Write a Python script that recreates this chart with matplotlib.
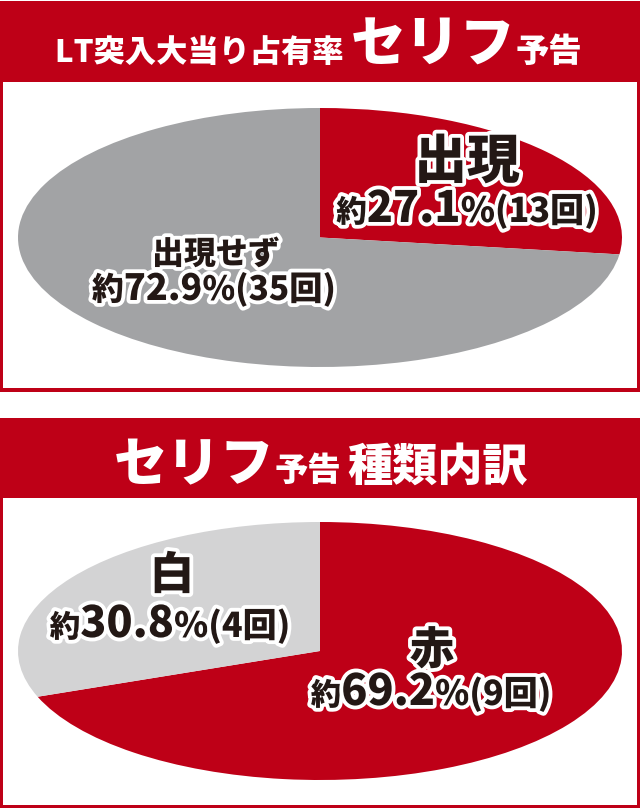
import matplotlib
matplotlib.use('Agg')
import matplotlib.pyplot as plt
import matplotlib.patheffects as pe
from matplotlib.patches import Rectangle

plt.rcParams['font.family'] = ['Noto Sans CJK JP', 'DejaVu Sans']

# データ
lt_labels = ['出現', '出現せず']
lt_counts = [13, 35]
lt_pct = ['27.1', '72.9']

kind_labels = ['赤', '白']
kind_counts = [9, 4]
kind_pct = ['69.2', '30.8']

RED = '#BE0017'
GRAY = '#A2A3A5'
LGRAY = '#D3D3D4'
INK = '#231815'

W, H = 640, 808
fig = plt.figure(figsize=(W / 100, H / 100), dpi=100)

# 背景（枠）
bg = fig.add_axes([0, 0, 1, 1])
bg.set_xlim(0, W)
bg.set_ylim(H, 0)
bg.axis('off')
bg.add_patch(Rectangle((0, 1), 640, 391, color=RED, lw=0))
bg.add_patch(Rectangle((3, 82), 634, 306, color='white', lw=0))
bg.add_patch(Rectangle((0, 418), 640, 390, color=RED, lw=0))
bg.add_patch(Rectangle((3, 498), 634, 307, color='white', lw=0))


def pie_axes(top, bottom):
    ax = fig.add_axes([18 / W, 1 - bottom / H, 604 / W, (bottom - top) / H])
    return ax


ax1 = pie_axes(108, 367)
ax1.pie(lt_counts, colors=[RED, GRAY], startangle=90, counterclock=False,
        wedgeprops=dict(linewidth=0))
ax1.set_aspect('auto')
ax1.set_xlim(-1, 1)
ax1.set_ylim(-1, 1)

ax2 = pie_axes(522, 780)
ax2.pie(kind_counts, colors=[RED, LGRAY], startangle=90, counterclock=False,
        wedgeprops=dict(linewidth=0))
ax2.set_aspect('auto')
ax2.set_xlim(-1, 1)
ax2.set_ylim(-1, 1)

# 文字用
tx = fig.add_axes([0, 0, 1, 1])
tx.set_xlim(0, W)
tx.set_ylim(H, 0)
tx.axis('off')
tx.patch.set_alpha(0)

renderer = fig.canvas.get_renderer()
outline = [pe.withStroke(linewidth=5.5, foreground='white')]


def line(cx, y, parts, color=INK, stroke=True):
    objs = []
    for s, size in parts:
        t = tx.text(0, y, s, fontsize=size, fontweight='black', color=color,
                    ha='left', va='baseline',
                    path_effects=outline if stroke else None)
        objs.append(t)
    widths = [t.get_window_extent(renderer).width for t in objs]
    x = cx - sum(widths) / 2
    for t, w in zip(objs, widths):
        t.set_x(x)
        x += w


# 見出し
line(319, 62, [('LT突入大当り占有率 ', 22.5), ('セリフ', 39.5), ('予告', 24)],
     color='white', stroke=False)
line(321, 481, [('セリフ', 38.5), ('予告', 24), (' ', 20), ('種類内訳', 32.5)],
     color='white', stroke=False)

# ラベル 上段
line(467, 178, [(lt_labels[0], 38)])
line(467, 222, [('約', 22), (lt_pct[0], 31), ('%', 25),
                ('(' + str(lt_counts[0]) + '回)', 24.5)])
line(216, 264, [(lt_labels[1], 23)])
line(214, 300, [('約', 23), (lt_pct[1], 26), ('%', 24),
                ('(' + str(lt_counts[1]) + '回)', 24)])

# ラベル 下段
line(172, 589, [(kind_labels[1], 32)])
line(170, 637, [('約', 22), (kind_pct[1], 31), ('%', 25),
                ('(' + str(kind_counts[1]) + '回)', 24.5)])
line(432, 664, [(kind_labels[0], 32)])
line(431, 705, [('約', 22), (kind_pct[0], 31), ('%', 25),
                ('(' + str(kind_counts[0]) + '回)', 24.5)])

fig.savefig('out.png', dpi=100)
